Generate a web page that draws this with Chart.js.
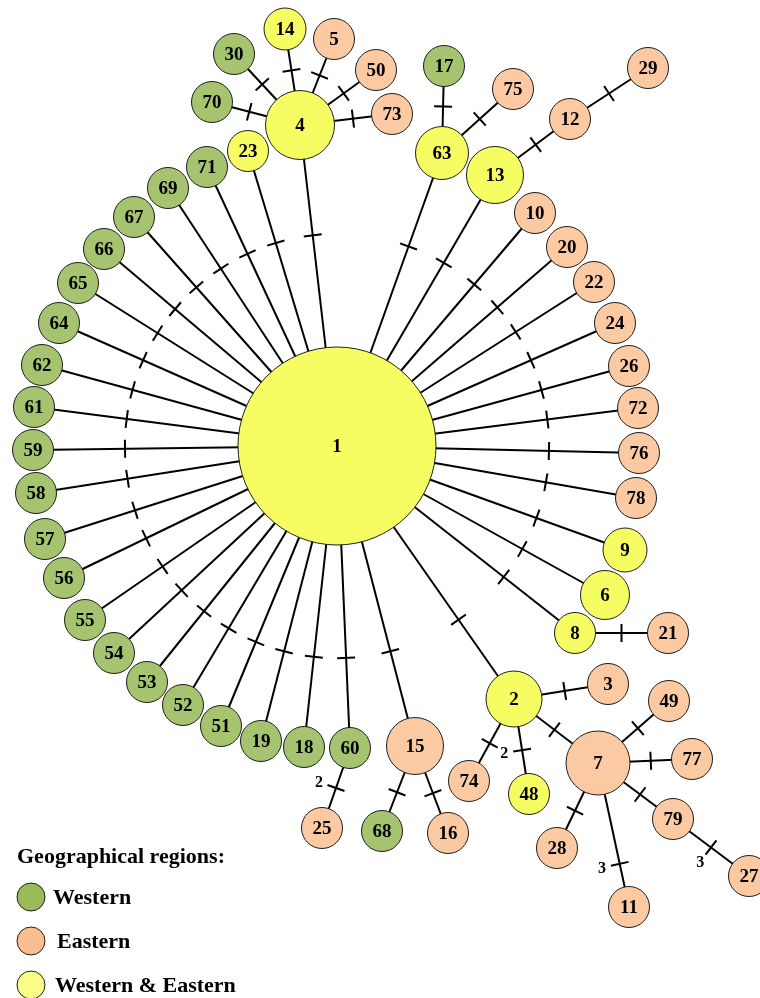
<!DOCTYPE html>
<html>
<head>
<meta charset="utf-8">
<script src="https://cdn.jsdelivr.net/npm/chart.js@4.4.1/dist/chart.umd.min.js"></script>
<style>
  html, body { margin: 0; padding: 0; background: #ffffff; }
  #wrap { width: 760px; height: 998px; position: relative; }
</style>
</head>
<body>
<div id="wrap"><canvas id="net"></canvas></div>
<script>
// Haplotype network: node ids, layout coordinates, node sizes and regions
const nodeIds = ['1','4','14','5','30','50','70','73','23','71','69','67','66','65','64','62','61','59','58','57','56','55','54','53','52','51','19','18','60','25','15','68','16','17','63','75','13','12','29','10','20','22','24','26','72','76','78','9','6','8','21','2','3','7','49','77','79','28','48','74','11','27'];
const nodeX = [337,300,285,334,234,376,212,392,248,207,168,134,104,78,59,42,34,33,36,45,64,85,114,147,183,221,261,304,350,322,415,382,448,444,442,513,495,570,648,535,567,594,615,629,638,639,636,625,605,575,668,514,608,598,669,692,673,557,529,469,629,749];
const nodeY = [446,125,29,39,54,70,102,114,151,167,188,217,249,283,323,365,407,450,493,539,578,620,653,682,705,726,741,747,748,828,746,831,833,66,153,89,175,119,68,213,247,282,323,366,408,453,498,550,595,633,633,699,684,763,701,759,819,848,794,781,907,876];
const nodeSize = [99,34.5,21,20.5,20.5,20.5,20.5,20.5,20.5,20.5,20.5,20.5,20.5,20.5,20.5,20.5,20.5,20.5,20.5,20.5,20.5,20.5,20.5,20.5,20.5,20.5,20.5,20.5,20.5,20.5,28.5,20.5,20.5,20.5,26.5,20.5,28.5,20.5,20.5,20.5,20.5,20.5,20.5,20.5,20.5,20.5,20.5,22,24.5,20.5,20.5,28,20.5,32,20.5,20.5,20.5,20.5,20.5,20.5,20.5,20.5];
const nodeRegion = ['WE','WE','WE','E','W','E','W','E','WE','W','W','W','W','W','W','W','W','W','W','W','W','W','W','W','W','W','W','W','W','E','E','W','E','W','WE','E','WE','E','E','E','E','E','E','E','E','E','E','WE','WE','WE','E','WE','E','E','E','E','E','E','WE','E','E','E'];

// Mutational links between haplotypes and the number of steps on each
const linkFrom = ['1','1','1','1','1','1','1','1','1','1','1','1','1','1','1','1','1','1','1','1','1','1','1','1','1','1','1','1','1','1','1','1','1','1','1','1','1','4','4','4','4','4','4','63','63','13','12','8','60','15','15','2','2','2','2','7','7','7','7','7','79'];
const linkTo   = ['4','23','71','69','67','66','65','64','62','61','59','58','57','56','55','54','53','52','51','19','18','60','15','2','8','6','9','78','76','72','26','24','22','20','10','13','63','14','5','30','50','70','73','17','75','12','29','21','25','68','16','3','7','74','48','49','77','79','28','11','27'];
const linkSteps = [1,1,1,1,1,1,1,1,1,1,1,1,1,1,1,1,1,1,1,1,1,1,1,1,1,1,1,1,1,1,1,1,1,1,1,1,1,1,1,1,1,1,1,1,1,1,1,1,2,1,1,1,1,1,2,1,1,1,1,3,3];

const regionKeys = ['W','E','WE'];
const regionLabels = ['Western','Eastern','Western & Eastern'];
const legendTitle = 'Geographical regions:';

// Styling
const nodeFill = { W: '#a6c470', E: '#fbcaa2', WE: '#f6fd62' };
const swatchFill = { W: '#9bbb59', E: '#f9bf90', WE: '#fbfd86' };
const FONT = '"Liberation Serif", "Times New Roman", serif';
const HUB_TICK_DIST = 212;
const TICK_HALF = 9;
// where along the free stretch of a link its mark sits (0.5 = halfway)
const markShift = { '7-11': 0.75 };

const idx = {};
nodeIds.forEach((id, i) => { idx[id] = i; });

const datasets = [];

// Link lines and their mutation marks
linkFrom.forEach((f, k) => {
  const a = idx[f], b = idx[linkTo[k]];
  const x1 = nodeX[a], y1 = nodeY[a], x2 = nodeX[b], y2 = nodeY[b];
  datasets.push({
    type: 'scatter', showLine: true, order: 3,
    data: [{ x: x1, y: y1 }, { x: x2, y: y2 }],
    borderColor: '#000', borderWidth: 2, pointRadius: 0, clip: false
  });
  const dx = x2 - x1, dy = y2 - y1;
  const d = Math.hypot(dx, dy);
  const ux = dx / d, uy = dy / d;
  const frac = markShift[f + '-' + linkTo[k]] ?? 0.5;
  const t = f === '1' ? HUB_TICK_DIST : nodeSize[a] + (d - nodeSize[b] - nodeSize[a]) * frac;
  const cx = x1 + ux * t, cy = y1 + uy * t;
  const px = -uy, py = ux;
  datasets.push({
    type: 'scatter', showLine: true, order: 2,
    data: [{ x: cx - px * TICK_HALF, y: cy - py * TICK_HALF }, { x: cx + px * TICK_HALF, y: cy + py * TICK_HALF }],
    borderColor: '#000', borderWidth: 2, pointRadius: 0, clip: false,
    stepInfo: { steps: linkSteps[k], cx, cy, px, py }
  });
});

// Haplotype circles
datasets.push({
  type: 'bubble', order: 1, clip: false,
  data: nodeIds.map((id, i) => ({ x: nodeX[i], y: nodeY[i], r: nodeSize[i] })),
  backgroundColor: nodeRegion.map(r => nodeFill[r]),
  borderColor: '#1e1e1e', borderWidth: 1
});

const labelPlugin = {
  id: 'netLabels',
  afterDatasetsDraw(chart) {
    const ctx = chart.ctx, xs = chart.scales.x, ys = chart.scales.y;
    ctx.save();
    ctx.fillStyle = '#000';
    ctx.textAlign = 'center';
    ctx.textBaseline = 'middle';
    ctx.font = 'bold 19px ' + FONT;
    nodeIds.forEach((id, i) => {
      ctx.fillText(id, xs.getPixelForValue(nodeX[i]), ys.getPixelForValue(nodeY[i]) + 1);
    });
    // step counts beside multi-step links
    ctx.font = 'bold 16px ' + FONT;
    chart.data.datasets.forEach(ds => {
      if (!ds.stepInfo || ds.stepInfo.steps < 2) return;
      const s = ds.stepInfo;
      let ox = s.px, oy = s.py;
      if (ox > 0) { ox = -ox; oy = -oy; }
      const lx = s.cx + ox * 18, ly = s.cy + oy * 18;
      ctx.fillText(String(s.steps), xs.getPixelForValue(lx), ys.getPixelForValue(ly) + 1);
    });
    ctx.restore();
  }
};

const legendPlugin = {
  id: 'regionLegend',
  afterDraw(chart) {
    const ctx = chart.ctx;
    ctx.save();
    ctx.fillStyle = '#000';
    ctx.textBaseline = 'middle';
    ctx.textAlign = 'left';
    ctx.font = 'bold 22px ' + FONT;
    ctx.fillText(legendTitle, 17, 857);
    const rowsY = [897, 941, 985];
    const textX = [53, 57, 55];
    regionKeys.forEach((k, i) => {
      ctx.beginPath();
      ctx.arc(31, rowsY[i], 14, 0, Math.PI * 2);
      ctx.fillStyle = swatchFill[k];
      ctx.fill();
      ctx.lineWidth = 1;
      ctx.strokeStyle = '#1e1e1e';
      ctx.stroke();
      ctx.fillStyle = '#000';
      ctx.fillText(regionLabels[i], textX[i], rowsY[i] + 1);
    });
    ctx.restore();
  }
};

new Chart(document.getElementById('net'), {
  type: 'bubble',
  data: { datasets },
  options: {
    responsive: true,
    maintainAspectRatio: false,
    animation: false,
    events: [],
    layout: { padding: 0, autoPadding: false },
    plugins: { legend: { display: false }, tooltip: { enabled: false } },
    scales: {
      x: { type: 'linear', min: 0, max: 760, display: false },
      y: { type: 'linear', min: 0, max: 998, reverse: true, display: false }
    }
  },
  plugins: [labelPlugin, legendPlugin]
});
</script>
</body>
</html>
